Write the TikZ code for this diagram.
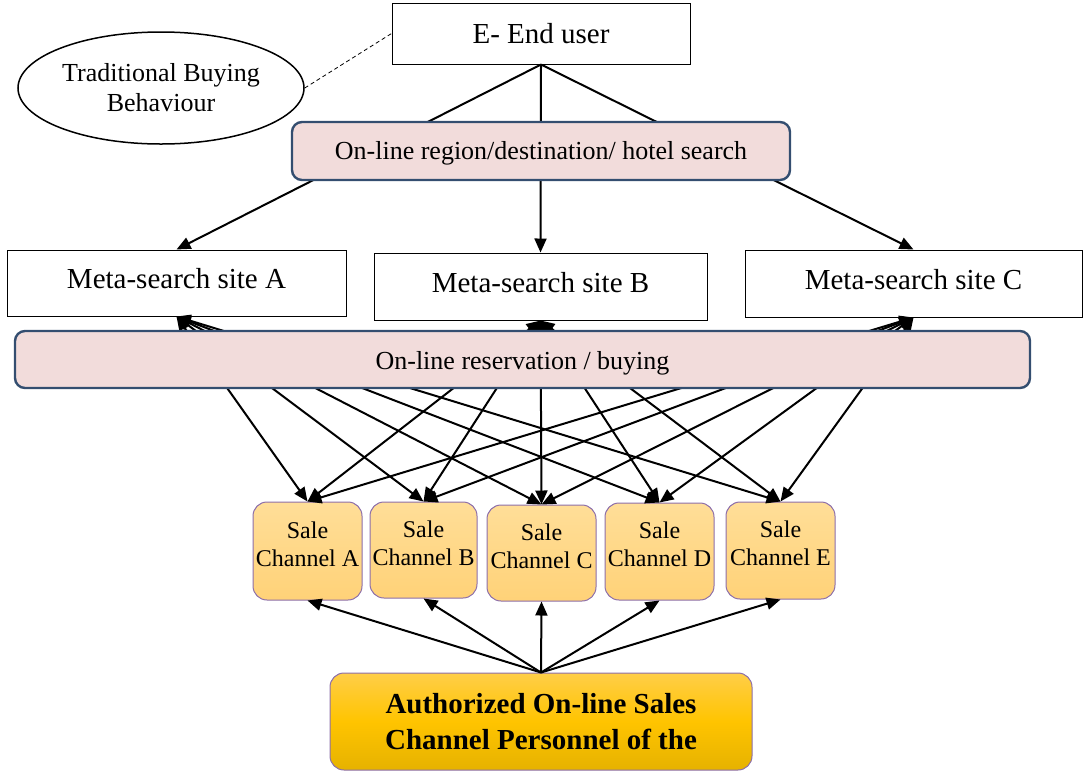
\documentclass[tikz,border=0pt]{standalone}
\usepackage{fontspec}
\setmainfont{Liberation Serif}
\usetikzlibrary{arrows.meta,shapes.geometric,calc}
\definecolor{pinkfill}{RGB}{242,220,219}
\definecolor{navyedge}{RGB}{52,78,112}
\definecolor{saletop}{RGB}{255,222,152}
\definecolor{salebot}{RGB}{255,210,120}
\definecolor{purpedge}{RGB}{140,110,170}
\definecolor{goldtop}{RGB}{255,206,72}
\definecolor{goldmid}{RGB}{255,196,0}
\definecolor{goldbot}{RGB}{230,178,0}
\newcommand{\liftup}[2]{\raisebox{#1}[0pt][0pt]{\begin{tabular}{@{}c@{}}#2\end{tabular}}}
\newcommand{\oneline}[2]{\raisebox{#1}[0pt][0pt]{#2}}
\begin{document}
\begin{tikzpicture}[x=1pt,y=-1pt,
 plainbox/.style={draw=black,line width=1pt,fill=white,inner sep=0pt,font=\fontsize{29}{34}\selectfont},
 bar/.style={draw=navyedge,line width=2.4pt,fill=pinkfill,rounded corners=10pt,inner sep=0pt,font=\fontsize{26}{30}\selectfont},
 sale/.style={draw=purpedge,line width=1pt,top color=saletop,bottom color=salebot,rounded corners=14pt,inner sep=0pt,align=center,font=\fontsize{24}{28}\selectfont},
 conn/.style={line width=2pt,-{Triangle[length=14pt,width=12pt]}},
 biconn/.style={line width=2pt,{Triangle[length=14pt,width=12pt]}-{Triangle[length=14pt,width=12pt]}},
]
\useasboundingbox (0,0) rectangle (1083,772);

% top
\node[plainbox,minimum width=298pt,minimum height=61pt] (eu) at (541,33.5) {E- End user};
\node[draw,ellipse,line width=1.5pt,minimum width=286pt,minimum height=112pt,align=center,inner sep=0pt,font=\fontsize{26}{30}\selectfont] (tbb) at (161,88) {Traditional Buying\\Behaviour};
\draw[line width=0.8pt,dash pattern=on 4pt off 3pt] (tbb.east) -- (eu.west);

% meta-search sites
\node[plainbox,minimum width=339pt,minimum height=66pt] (mA) at (176.5,283) {\oneline{-5.5pt}{Meta-search site A}};
\node[plainbox,minimum width=333pt,minimum height=67pt] (mB) at (540.5,286.5) {\oneline{-5.5pt}{Meta-search site B}};
\node[plainbox,minimum width=337pt,minimum height=67pt] (mC) at (913.5,283.5) {\oneline{-5.5pt}{Meta-search site C}};

\foreach \m in {mA,mB,mC}{
  \draw[conn] (eu.south) -- (\m.north);
}

\node[bar,minimum width=498pt,minimum height=58pt] (search) at (541,151) {\oneline{-8pt}{On-line region/destination/ hotel search}};

% sale channels
\node[sale,minimum width=109pt,minimum height=98pt] (sA) at (307.5,551) {\liftup{-2pt}{Sale\\Channel A}};
\node[sale,minimum width=107pt,minimum height=96pt] (sB) at (423.5,550) {\liftup{-2pt}{Sale\\Channel B}};
\node[sale,minimum width=109pt,minimum height=96pt] (sC) at (541.5,553) {\liftup{-2pt}{Sale\\Channel C}};
\node[sale,minimum width=109pt,minimum height=97pt] (sD) at (659.5,551.5) {\liftup{-2pt}{Sale\\Channel D}};
\node[sale,minimum width=109pt,minimum height=97pt] (sE) at (780.5,550.5) {\liftup{-2pt}{Sale\\Channel E}};

\foreach \m in {mA,mB,mC}{
  \foreach \s in {sA,sB,sC,sD,sE}{
    \draw[biconn] (\m.south) -- (\s.north);
  }
}

\node[bar,minimum width=1015pt,minimum height=57pt] (resv) at (522.5,359.5) {\oneline{-10pt}{On-line reservation / buying}};

% bottom
\node[draw=purpedge,line width=1pt,top color=goldtop,bottom color=goldbot,middle color=goldmid,rounded corners=14pt,inner sep=0pt,align=center,minimum width=422pt,minimum height=97pt,font=\fontsize{29}{36}\selectfont\bfseries] (auth) at (541,721.5) {Authorized On-line Sales\\Channel Personnel of the};

\foreach \s in {sA,sB,sC,sD,sE}{
  \draw[conn] (auth.north) -- (\s.south);
}
\end{tikzpicture}
\end{document}
